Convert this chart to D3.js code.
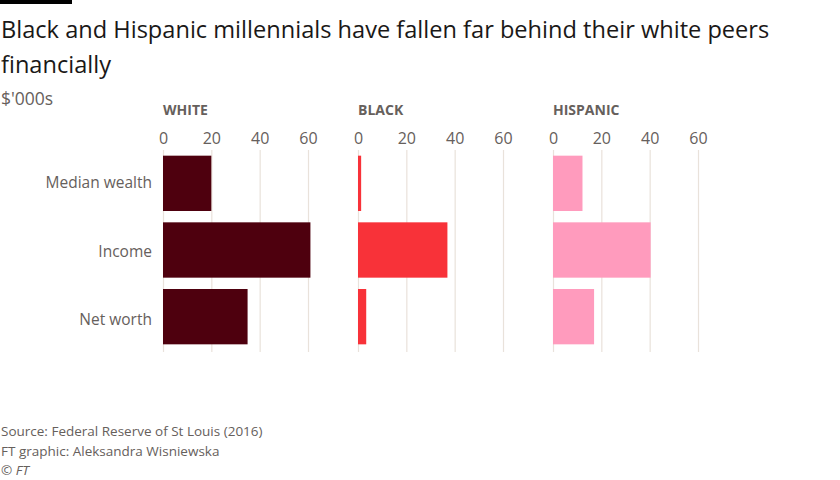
<!DOCTYPE html>
<html>
<head>
<meta charset="utf-8">
<script src="https://cdn.jsdelivr.net/npm/d3@7"></script>
<style>
	body { margin: 0; background: #fff; }
	svg { display: block; font-family: "Open Sans", "Noto Sans", sans-serif; }
</style>
</head>
<body>
<svg id="chart" width="840" height="480"></svg>
<script>
// data
var measures = ["Median wealth", "Income", "Net worth"];
var groups = ["WHITE", "BLACK", "HISPANIC"];
var white = [20, 61, 35];
var black = [1.3, 37, 3.4];
var hispanic = [12.2, 40.4, 17];
var ticks = [0, 20, 40, 60];
var colours = ["#4e000e", "#f83239", "#ff9bbd"];

var values = [white, black, hispanic];

var svg = d3.select("#chart");

// header
svg.append("rect").attr("x", 0).attr("y", 0).attr("width", 72).attr("height", 4).attr("fill", "#000");
svg.append("text").attr("x", 1).attr("y", 38).attr("font-size", 23.6).attr("fill", "#1a1817")
	.text("Black and Hispanic millennials have fallen far behind their white peers");
svg.append("text").attr("x", 1).attr("y", 73).attr("font-size", 23.6).attr("fill", "#1a1817")
	.text("financially");
svg.append("text").attr("x", 1).attr("y", 105).attr("font-size", 17.5).attr("fill", "#66605c")
	.text("$'000s");

// layout
var panel_w = 145, panel_gap = 195, left = 163;
var x = d3.scaleLinear().domain([0, 60]).range([0, panel_w]);
var y = d3.scaleBand().domain(measures).range([150, 350]).paddingInner(0.17).paddingOuter(0.085);
// labels sit on their own slightly wider spacing
var yl = d3.scalePoint().domain(measures).range([183, 320]);

// category labels
svg.append("g").selectAll("text").data(measures).enter().append("text")
	.attr("x", 152).attr("y", function(d){ return yl(d); })
	.attr("dy", "0.35em").attr("text-anchor", "end")
	.attr("font-size", 15.5).attr("fill", "#66605c")
	.text(function(d){ return d; });

groups.forEach(function(grp, gi){
	var g = svg.append("g").attr("transform", "translate(" + (left + gi*panel_gap) + ",0)");
	g.append("text").attr("x", 0).attr("y", 115).attr("font-size", 14)
		.attr("font-weight", "bold").attr("fill", "#66605c").text(grp);

	var axis = d3.axisTop(x).tickValues(ticks).tickSize(-(352 - 150)).tickPadding(6);
	var ax = g.append("g").attr("transform", "translate(0,150)").call(axis);
	ax.select(".domain").remove();
	ax.selectAll(".tick line").attr("stroke", "#e9e2db").attr("stroke-width", 1.2);
	ax.selectAll(".tick text").attr("font-size", 16).attr("fill", "#66605c")
		.attr("font-family", "Open Sans, sans-serif");

	g.selectAll("rect.bar").data(values[gi]).enter().append("rect").attr("class", "bar")
		.attr("x", x(0))
		.attr("y", function(d, i){ return y(measures[i]); })
		.attr("width", function(d){ return x(d) - x(0); })
		.attr("height", y.bandwidth())
		.attr("fill", colours[gi]);
});

// footer
var foot = ["Source: Federal Reserve of St Louis (2016)", "FT graphic: Aleksandra Wisniewska"];
svg.append("g").selectAll("text").data(foot).enter().append("text")
	.attr("x", 1).attr("y", function(d, i){ return 436 + i*19.5; })
	.attr("font-size", 13.5).attr("fill", "#66605c")
	.text(function(d){ return d; });
svg.append("text").attr("x", 1).attr("y", 475).attr("font-size", 13.5).attr("fill", "#66605c")
	.attr("font-style", "italic").text("© FT");
</script>
</body>
</html>
